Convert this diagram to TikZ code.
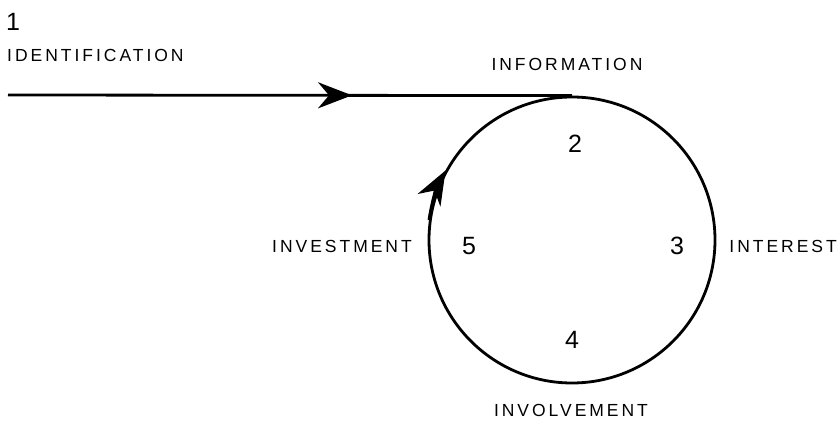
\documentclass[tikz,border=0pt]{standalone}
\usepackage{fontspec}
\usepackage{tikz}
\usetikzlibrary{arrows.meta,decorations.markings}
\newfontfamily\stagefont[LetterSpace=17]{Liberation Sans}
\newfontfamily\numfont{Liberation Sans}

\begin{document}
\begin{tikzpicture}[x=1pt,y=1pt,
      stage/.style={font=\stagefont\fontsize{17.5}{20}\selectfont, inner sep=0pt},
      num/.style={font=\numfont\fontsize{25}{27}\selectfont, inner sep=0pt},
      loopline/.style={line width=2.8pt},
      head/.tip={Stealth[length=34pt,width=26pt,inset=11pt]}]

      \useasboundingbox (0,0) rectangle (838,439);

      \node[circle, draw, loopline, minimum size=286pt, inner sep=0pt] (cyc) at (572,199) {};
      \coordinate (start) at (8,344);

      \draw[loopline, postaction={decorate},
        decoration={markings, mark=at position 0.61 with {\arrow{head}}}]
        (start) -- (cyc.north);
      \draw[loopline, -head] (cyc.172) arc (172:151:143);

      \node[num] (n1) at (13,417) {1};
      \node[stage, anchor=west] (identification) at (7,384) {IDENTIFICATION};
      \node[stage] (information) at (567,375) {INFORMATION};
      \node[num] (n2) at (575,295) {2};
      \node[num] (n3) at (677,193) {3};
      \node[num] (n4) at (572,99) {4};
      \node[num] (n5) at (469,193) {5};
      \node[stage, anchor=east] (investment) at (412,193) {INVESTMENT};
      \node[stage, anchor=east] (interest) at (837,193) {INTEREST};
      \node[stage] (involvement) at (571,29) {INVOLVEMENT};

    \end{tikzpicture}
\end{document}
